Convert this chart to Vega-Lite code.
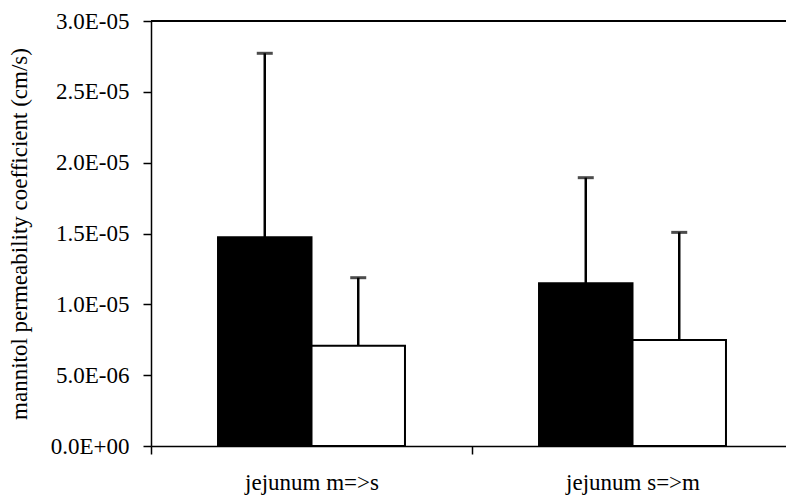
{
  "$schema": "https://vega.github.io/schema/vega-lite/v6.json",
  "width": 635,
  "height": 425,
  "autosize": {"type": "none"},
  "padding": {"left": 151, "top": 21, "right": 0, "bottom": 54},
  "background": "white",
  "config": {
    "view": {"stroke": null},
    "font": "Liberation Serif",
    "axis": {"labelFont": "Liberation Serif", "titleFont": "Liberation Serif", "domainColor": "black", "tickColor": "black", "labelColor": "black", "titleColor": "black", "grid": false}
  },
  "data": {
    "values": [
      {"group": "jejunum m=>s", "series": "A", "mean": 1.473e-05, "upper": 2.772e-05},
      {"group": "jejunum m=>s", "series": "B", "mean": 7.08e-06, "upper": 1.188e-05},
      {"group": "jejunum s=>m", "series": "A", "mean": 1.148e-05, "upper": 1.894e-05},
      {"group": "jejunum s=>m", "series": "B", "mean": 7.48e-06, "upper": 1.508e-05}
    ]
  },
  "encoding": {
    "x": {
      "field": "group", "type": "nominal", "sort": null,
      "scale": {"range": [0, 642], "paddingInner": 0, "paddingOuter": 0},
      "axis": {"title": null, "labelAngle": 0, "labelFontSize": 23, "labelPadding": 17, "tickSize": 8, "tickBand": "extent", "domainWidth": 1.5, "tickWidth": 1.5}
    },
    "xOffset": {"field": "series", "type": "nominal", "scale": {"paddingInner": 0, "paddingOuter": 0.717}}
  },
  "layer": [
    {
      "mark": {"type": "rule", "color": "black", "strokeWidth": 1.5},
      "encoding": {"y": {"datum": 3e-05}, "x": null, "xOffset": null}
    },
    {
      "mark": {"type": "rule", "color": "black", "strokeWidth": 2.5},
      "encoding": {
        "y": {"field": "mean", "type": "quantitative"},
        "y2": {"field": "upper"}
      }
    },
    {
      "mark": {"type": "tick", "color": "black", "thickness": 3, "size": 16, "orient": "horizontal"},
      "encoding": {"y": {"field": "upper", "type": "quantitative"}}
    },
    {
      "mark": {"type": "bar", "stroke": "black", "strokeWidth": 2, "width": {"band": 1}},
      "encoding": {
        "y": {
          "field": "mean", "type": "quantitative",
          "scale": {"domain": [0, 3e-05], "nice": false},
          "axis": {
            "title": "mannitol permeability coefficient (cm/s)",
            "titleFontSize": 23, "titleFontWeight": "normal", "titlePadding": 19, "titleLimit": 500,
            "values": [0, 5e-06, 1e-05, 1.5e-05, 2e-05, 2.5e-05, 3e-05],
            "labelExpr": "replace(replace(format(datum.value, '.1e'), 'e-', 'E-0'), 'e+', 'E+0')",
            "labelFontSize": 23, "labelPadding": 14, "tickSize": 8, "domainWidth": 1.5, "tickWidth": 1.5
          }
        },
        "fill": {"field": "series", "type": "nominal", "scale": {"domain": ["A", "B"], "range": ["black", "white"]}, "legend": null}
      }
    }
  ]
}
